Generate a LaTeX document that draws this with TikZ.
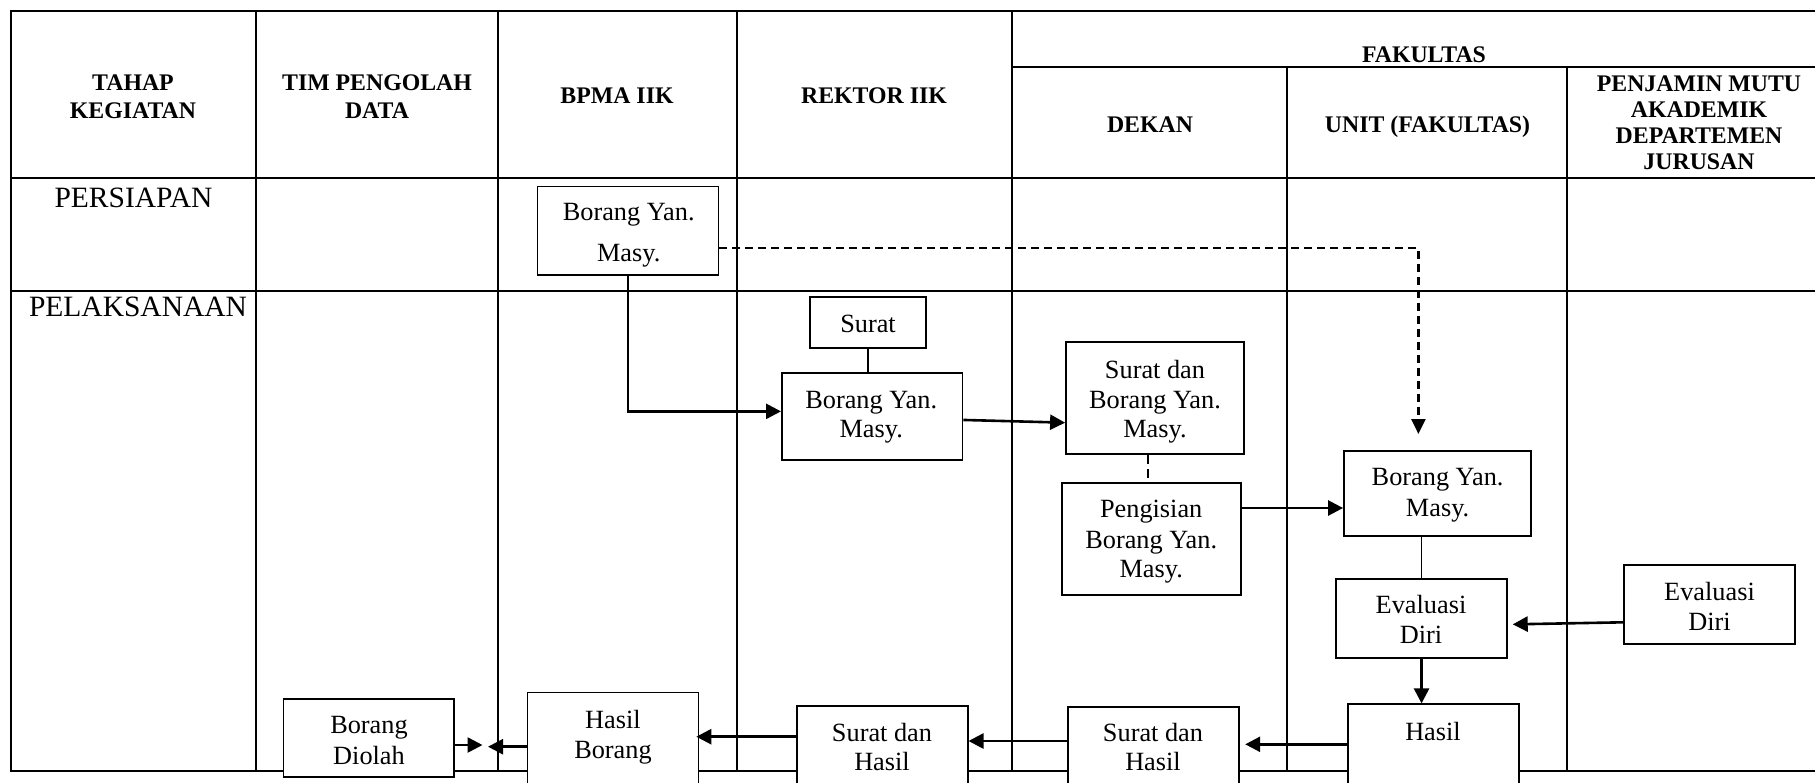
\documentclass[tikz,border=0pt]{standalone}
\usepackage{fontspec}
\setmainfont{Liberation Serif}
\usetikzlibrary{arrows.meta,fit}
\begin{document}
\begin{tikzpicture}[x=1pt,y=-1pt,
  tab/.style={line width=2pt},
  box/.style={draw,line width=1.8pt,fill=white,inner sep=0pt},
  txt/.style={anchor=base,inner sep=0pt,font=\fontsize{26.3}{30}\selectfont},
  hd/.style={anchor=base,inner sep=0pt,font=\fontsize{23.8}{27}\selectfont\bfseries},
  stg/.style={anchor=base,inner sep=0pt,font=\fontsize{29.5}{33}\selectfont},
  arr/.style={line width=2.6pt,-{Triangle[length=15pt,width=15pt]}},
  thinln/.style={line width=1.5pt},
  dsh/.style={line width=2.4pt,dash pattern=on 8pt off 5pt}
]
\clip (0,0) rectangle (1815,782);
\fill[white] (0,0) rectangle (1815,782);

% table
\draw[tab] (1815,11) -- (11,11) -- (11,770.7) -- (1815,770.7);
\draw[tab] (11,178.3) -- (1815,178.3);
\draw[tab] (11,290.7) -- (1815,290.7);
\draw[tab] (1012,66.7) -- (1815,66.7);
\foreach \x in {255.7,497.7,737,1012} \draw[tab] (\x,11) -- (\x,770.7);
\foreach \x in {1287.4,1566.5} \draw[tab] (\x,66.7) -- (\x,770.7);

% headers
\node[hd] (h1a) at (133,90.5) {TAHAP};
\node[hd] (h1b) at (133,118) {KEGIATAN};
\node[hd] (h2a) at (377,90.5) {TIM PENGOLAH};
\node[hd] (h2b) at (377,118) {DATA};
\node[hd] (h3) at (617,103.5) {BPMA IIK};
\node[hd] (h4) at (874,103.5) {REKTOR IIK};
\node[hd] (h5) at (1424,62) {FAKULTAS};
\node[hd] (h6) at (1150,132) {DEKAN};
\node[hd] (h7) at (1427.5,132) {UNIT (FAKULTAS)};
\node[hd] (h8a) at (1699,91.5) {PENJAMIN MUTU};
\node[hd] (h8b) at (1699,117.5) {AKADEMIK};
\node[hd] (h8c) at (1699,143.5) {DEPARTEMEN};
\node[hd] (h8d) at (1699,169.5) {JURUSAN};

\node[stg] (s1) at (133.5,207) {PERSIAPAN};
\node[stg] (s2) at (138,316.5) {PELAKSANAAN};

% boxes
\node[box,fit={(537.5,186.5) (718.5,275)}] (b1) {};
\node[box,fit={(809.7,297.3) (926.2,348)}] (b2) {};
\node[box,fit={(781.9,372.7) (962.5,460)}] (b3) {};
\node[box,fit={(1066,342.3) (1244.3,454)}] (b4) {};
\node[box,fit={(1061.9,482.7) (1240.6,594.7)}] (b5) {};
\node[box,fit={(1344,450.7) (1530.7,535.7)}] (b6) {};
\node[box,fit={(1336.3,579) (1506.8,657.7)}] (b7) {};
\node[box,fit={(1624.2,565.3) (1794.7,643.7)}] (b8) {};
\node[box,fit={(1348.2,704.3) (1518.7,810)}] (b9) {};
\node[box,fit={(1068,706.7) (1238.6,810)}] (b10) {};
\node[box,fit={(796.8,706.3) (967.6,810)}] (b11) {};
\node[box,fit={(527.5,692.5) (698.4,810)}] (b12) {};
\node[box,fit={(283.5,699) (453.7,777.3)}] (b13) {};

% connectors
\draw[arr] (b1.south) |- ([yshift=5pt]b3.west);
\draw[thinln] (b2.south) -- (b2.south |- b3.north);
\draw[arr] ([yshift=-3.6pt]b3.east) -- ([yshift=-24.5pt]b4.west);
\coordinate (c1) at ([xshift=-7pt]b4.south);
\draw[thinln,dash pattern=on 9pt off 5pt] (c1) -- (c1 |- b5.north);
\coordinate (d1) at (1418.4,434);
\draw[dsh,-{Triangle[length=15pt,width=14pt]}] ([yshift=-17pt]b1.east) -| (d1);
\coordinate (c2) at ([yshift=30.7pt]b5.east);
\draw[arr] (c2) -- (c2 -| b6.west);
\draw[thinln] (b7.north |- b6.south) -- (b7.north);
\draw[arr] ([yshift=-17.8pt]b8.west) -- ([xshift=5pt,yshift=-6pt]b7.east);
\draw[arr] (b7.south) -- (b7.south |- b9.north);
\coordinate (y1) at (0,744.3);
\coordinate (y2) at (0,741);
\coordinate (y3) at (0,736.7);
\draw[arr,shorten >=5.7pt] (b9.west |- y1) -- (b10.east |- y1);
\draw[arr] (b10.west |- y2) -- (b11.east |- y2);
\draw[arr,shorten >=-3pt] (b11.west |- y3) -- (b12.east |- y3);
\coordinate (e1) at (482.5,745);
\coordinate (e2) at (488,746.7);
\draw[arr] (b13.east |- e1) -- (e1);
\draw[arr] (b12.west |- e2) -- (e2);

% box texts
\node[txt] (t1a) at (628.7,220.7) {Borang Yan.};
\node[txt] (t1b) at (628.7,261.7) {Masy.};
\node[txt] (t2) at (868,332.7) {Surat};
\node[txt] (t3a) at (871.2,408.3) {Borang Yan.};
\node[txt] (t3b) at (871.2,437.3) {Masy.};
\node[txt] (t4a) at (1155,378.3) {Surat dan};
\node[txt] (t4b) at (1155,408.3) {Borang Yan.};
\node[txt] (t4c) at (1155,437.3) {Masy.};
\node[txt] (t5a) at (1151.2,517.3) {Pengisian};
\node[txt] (t5b) at (1151.2,548.3) {Borang Yan.};
\node[txt] (t5c) at (1151.2,577.7) {Masy.};
\node[txt] (t6a) at (1437.6,485) {Borang Yan.};
\node[txt] (t6b) at (1437.6,516.7) {Masy.};
\node[txt] (t7a) at (1421,613.3) {Evaluasi};
\node[txt] (t7b) at (1421,643.3) {Diri};
\node[txt] (t8a) at (1709.5,600.7) {Evaluasi};
\node[txt] (t8b) at (1709.5,630) {Diri};
\node[txt] (t9) at (1433,740) {Hasil};
\node[txt] (t10a) at (1153,741.7) {Surat dan};
\node[txt] (t10b) at (1153,770) {Hasil};
\node[txt] (t11a) at (882,741.7) {Surat dan};
\node[txt] (t11b) at (882,770) {Hasil};
\node[txt] (t12a) at (613,728) {Hasil};
\node[txt] (t12b) at (613,758.3) {Borang};
\node[txt] (t13a) at (369,733.3) {Borang};
\node[txt] (t13b) at (369,764) {Diolah};
\end{tikzpicture}
\end{document}
